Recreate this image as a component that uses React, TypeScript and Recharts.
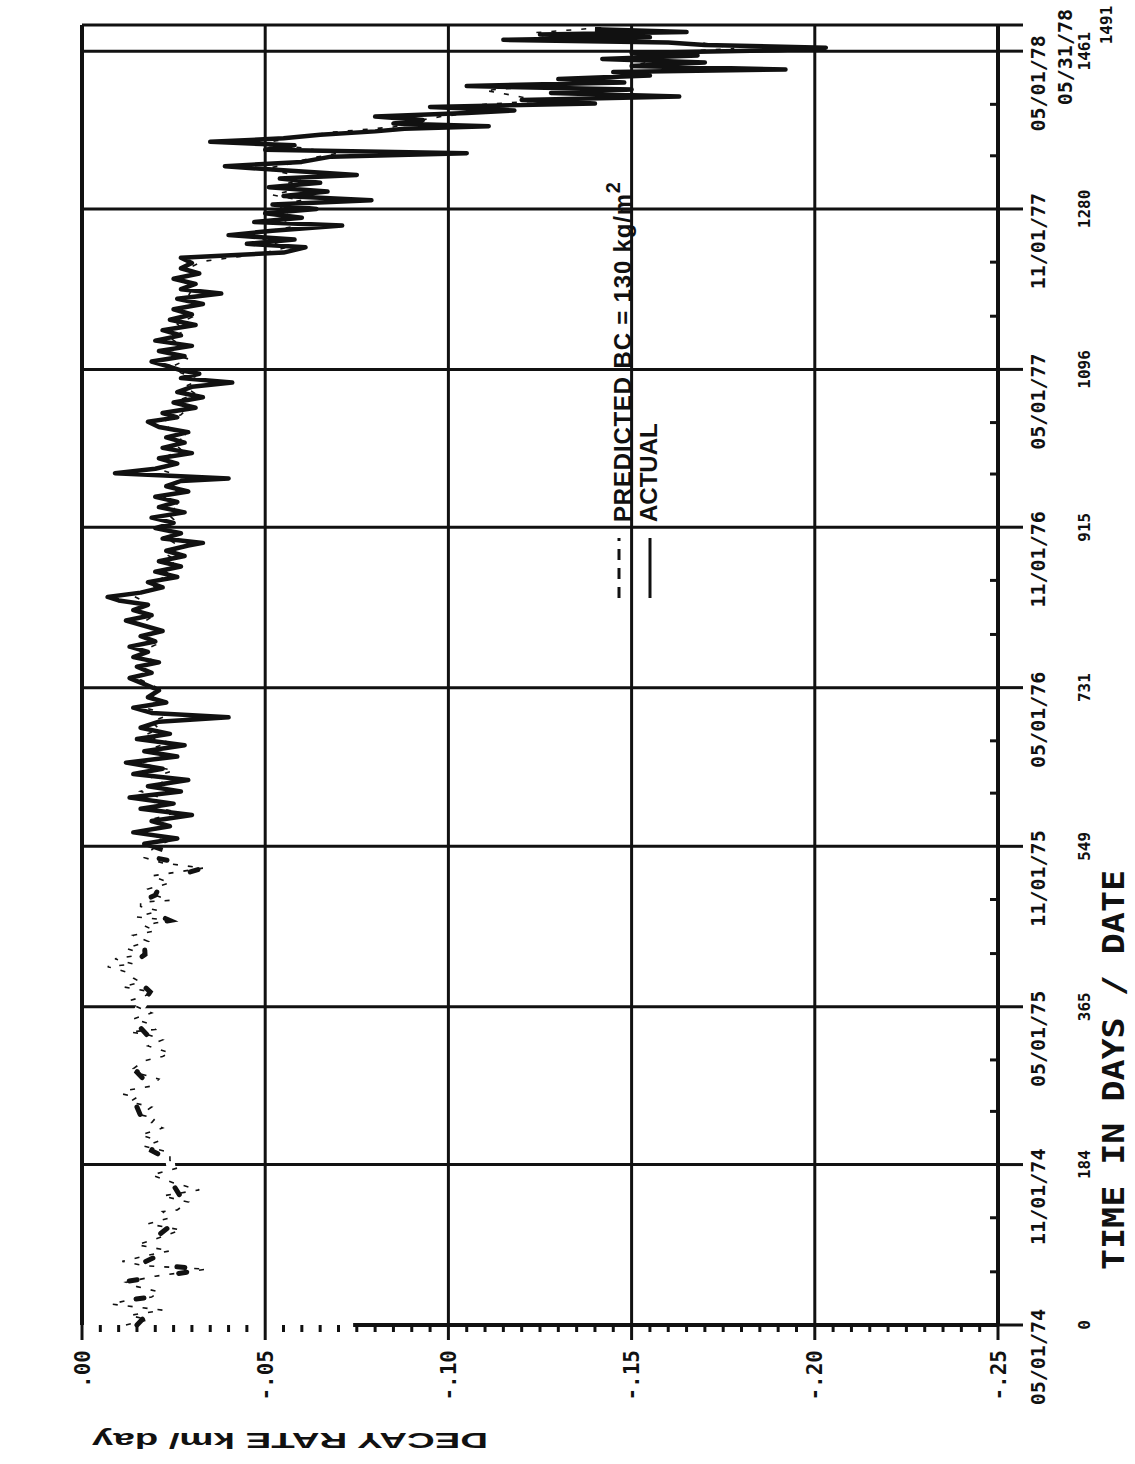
import {
  LineChart,
  Line,
  XAxis,
  YAxis,
  CartesianGrid,
  ReferenceLine,
  Legend,
} from "recharts";

// time axis: days since 05/01/74
const dayTicks = [0, 184, 365, 549, 731, 915, 1096, 1280, 1461, 1491];
const dayLabels = ["0", "184", "365", "549", "731", "915", "1096", "1280", "1461", "1491"];
const dateLabels = [
  "05/01/74", "11/01/74", "05/01/75", "11/01/75", "05/01/76",
  "11/01/76", "05/01/77", "11/01/77", "05/01/78", "05/31/78",
];
// first of Jul, Sep, Jan, Mar
const monthTicks = [61, 123, 245, 304, 426, 488, 610, 670, 792, 854, 976, 1035, 1157, 1219, 1341, 1400];

// decay rate axis, km/day
const rateTicks = [0, -0.05, -0.1, -0.15, -0.2, -0.25];
const rateLabels = [".00", "-.05", "-.10", "-.15", "-.20", "-.25"];

// [day, decay rate]
const predicted: [number, number][] = [
  [0, -0.012], [6, -0.018], [11, -0.013], [17, -0.022], [24, -0.008], [29, -0.013], [32, -0.019], [38, -0.021],
  [44, -0.015], [49, -0.012], [56, -0.02], [64, -0.034], [68, -0.017], [73, -0.011], [80, -0.018], [85, -0.024],
  [92, -0.015], [100, -0.021], [109, -0.027], [116, -0.018], [123, -0.024], [130, -0.022], [132, -0.026], [141, -0.029],
  [148, -0.022], [155, -0.032], [163, -0.025], [172, -0.019], [180, -0.026], [189, -0.024], [198, -0.024], [205, -0.017],
  [211, -0.021], [218, -0.016], [226, -0.022], [232, -0.019], [237, -0.02], [241, -0.016], [250, -0.019], [256, -0.013],
  [261, -0.015], [265, -0.011], [269, -0.012], [274, -0.019], [282, -0.021], [288, -0.016], [294, -0.014], [303, -0.017],
  [308, -0.022], [312, -0.024], [320, -0.018], [327, -0.022], [333, -0.018], [336, -0.013], [339, -0.02], [346, -0.018],
  [351, -0.014], [358, -0.019], [365, -0.015], [372, -0.013], [377, -0.017], [382, -0.019], [388, -0.011], [393, -0.016],
  [398, -0.014], [405, -0.012], [411, -0.007], [414, -0.014], [420, -0.009], [425, -0.017], [432, -0.012], [440, -0.018],
  [447, -0.014], [452, -0.02], [458, -0.017], [461, -0.02], [464, -0.024], [468, -0.015], [475, -0.021], [480, -0.016],
  [485, -0.016], [487, -0.024], [493, -0.02], [500, -0.018], [507, -0.024], [515, -0.019], [524, -0.033], [530, -0.022],
  [536, -0.017], [542, -0.018], [548, -0.02], [556, -0.024], [564, -0.017], [572, -0.023], [580, -0.019], [588, -0.026],
  [596, -0.018], [604, -0.022], [612, -0.016], [620, -0.023], [628, -0.019], [636, -0.025], [644, -0.016], [652, -0.022],
  [660, -0.018], [668, -0.024], [676, -0.017], [684, -0.021], [692, -0.019], [700, -0.024], [708, -0.017], [716, -0.021],
  [724, -0.018], [732, -0.02], [740, -0.016], [748, -0.019], [756, -0.015], [764, -0.019], [772, -0.016], [780, -0.02],
  [788, -0.017], [796, -0.021], [804, -0.016], [812, -0.019], [820, -0.015], [828, -0.018], [836, -0.014], [844, -0.02],
  [852, -0.019], [860, -0.024], [868, -0.022], [876, -0.026], [884, -0.023], [892, -0.027], [900, -0.024], [908, -0.026],
  [916, -0.022], [924, -0.025], [932, -0.023], [940, -0.027], [948, -0.022], [956, -0.026], [964, -0.024], [972, -0.028],
  [980, -0.022], [988, -0.025], [996, -0.023], [1004, -0.027], [1012, -0.025], [1020, -0.029], [1028, -0.024], [1036, -0.022],
  [1044, -0.027], [1052, -0.029], [1060, -0.026], [1068, -0.031], [1076, -0.028], [1084, -0.032], [1092, -0.027], [1100, -0.025],
  [1108, -0.029], [1116, -0.023], [1124, -0.027], [1132, -0.024], [1140, -0.028], [1148, -0.026], [1156, -0.03], [1164, -0.027],
  [1172, -0.031], [1180, -0.029], [1188, -0.03], [1196, -0.028], [1204, -0.031], [1212, -0.029], [1220, -0.033], [1228, -0.048],
  [1236, -0.056], [1244, -0.05], [1252, -0.047], [1260, -0.058], [1268, -0.054], [1276, -0.057], [1284, -0.053], [1290, -0.06],
  [1296, -0.052], [1302, -0.058], [1308, -0.055], [1314, -0.06], [1320, -0.057], [1326, -0.05], [1332, -0.057], [1338, -0.062],
  [1344, -0.07], [1350, -0.06], [1356, -0.05], [1362, -0.058], [1368, -0.068], [1374, -0.085], [1380, -0.09], [1386, -0.098],
  [1392, -0.11], [1398, -0.102], [1404, -0.125], [1410, -0.118], [1416, -0.11], [1422, -0.128], [1428, -0.14], [1434, -0.15],
  [1440, -0.16], [1446, -0.152], [1452, -0.158], [1458, -0.15], [1464, -0.178], [1470, -0.17], [1476, -0.128], [1482, -0.123],
  [1488, -0.142],
];

// the first year and a half of the measured trace only prints in patches
const actualEarly: [number, number][] = [
  [0, -0.015], [11, -0.0175], [20, -0.012], [29, -0.013], [32, -0.019], [40, -0.014], [50, -0.012], [64, -0.034],
  [70, -0.016], [85, -0.0235], [100, -0.02], [120, -0.026], [140, -0.028], [160, -0.025], [189, -0.024], [200, -0.019],
  [211, -0.02], [220, -0.017], [240, -0.016], [260, -0.014], [274, -0.0186], [290, -0.015], [303, -0.017], [320, -0.019],
  [333, -0.0177], [350, -0.014], [365, -0.016], [382, -0.0186], [398, -0.0145], [414, -0.0136], [425, -0.0172], [440, -0.017],
  [461, -0.02], [464, -0.024], [475, -0.018], [485, -0.016], [493, -0.02], [510, -0.022], [524, -0.033], [535, -0.021],
  [545, -0.022],
];

const actual: [number, number][] = [
  [545, -0.022], [552, -0.017], [558, -0.026], [565, -0.014], [572, -0.024], [578, -0.019], [585, -0.03], [592, -0.016],
  [598, -0.025], [605, -0.013], [612, -0.027], [618, -0.018], [625, -0.029], [632, -0.014], [638, -0.022], [645, -0.012],
  [652, -0.026], [658, -0.017], [665, -0.028], [672, -0.015], [678, -0.024], [685, -0.016], [692, -0.021], [697, -0.04],
  [702, -0.019], [708, -0.014], [714, -0.023], [720, -0.018], [728, -0.021], [735, -0.017], [742, -0.013], [748, -0.019],
  [755, -0.015], [760, -0.021], [766, -0.014], [772, -0.018], [778, -0.013], [784, -0.02], [790, -0.016], [796, -0.022],
  [802, -0.017], [808, -0.012], [814, -0.019], [820, -0.014], [826, -0.018], [831, -0.01], [835, -0.007], [840, -0.016],
  [846, -0.022], [852, -0.018], [858, -0.026], [864, -0.02], [870, -0.027], [876, -0.021], [882, -0.028], [888, -0.023],
  [894, -0.029], [897, -0.033], [902, -0.022], [908, -0.027], [914, -0.02], [920, -0.025], [926, -0.019], [932, -0.028],
  [938, -0.021], [944, -0.026], [950, -0.02], [956, -0.029], [962, -0.023], [968, -0.027], [971, -0.04], [974, -0.024],
  [977, -0.009], [982, -0.02], [988, -0.026], [994, -0.021], [1000, -0.03], [1006, -0.022], [1012, -0.028], [1018, -0.023],
  [1024, -0.029], [1030, -0.021], [1036, -0.018], [1041, -0.026], [1046, -0.022], [1052, -0.031], [1058, -0.025], [1064, -0.033],
  [1070, -0.026], [1076, -0.03], [1081, -0.041], [1086, -0.027], [1091, -0.032], [1095, -0.027], [1099, -0.024], [1105, -0.019],
  [1111, -0.028], [1117, -0.021], [1123, -0.03], [1129, -0.02], [1135, -0.027], [1141, -0.022], [1147, -0.031], [1153, -0.024],
  [1159, -0.03], [1165, -0.025], [1171, -0.033], [1177, -0.026], [1183, -0.038], [1188, -0.027], [1194, -0.031], [1200, -0.025],
  [1206, -0.032], [1212, -0.027], [1218, -0.03], [1224, -0.027], [1230, -0.055], [1236, -0.061], [1240, -0.045], [1245, -0.058],
  [1250, -0.04], [1255, -0.052], [1261, -0.071], [1265, -0.047], [1270, -0.06], [1275, -0.05], [1280, -0.064], [1285, -0.052],
  [1290, -0.079], [1295, -0.055], [1300, -0.067], [1305, -0.051], [1310, -0.065], [1315, -0.054], [1319, -0.075], [1324, -0.056],
  [1329, -0.039], [1334, -0.06], [1340, -0.068], [1344, -0.105], [1348, -0.05], [1353, -0.058], [1357, -0.035], [1361, -0.055],
  [1365, -0.065], [1369, -0.08], [1372, -0.088], [1375, -0.111], [1378, -0.085], [1382, -0.093], [1386, -0.08], [1390, -0.105],
  [1393, -0.118], [1397, -0.095], [1401, -0.14], [1405, -0.12], [1409, -0.163], [1413, -0.128], [1417, -0.15], [1421, -0.105],
  [1425, -0.148], [1429, -0.13], [1433, -0.155], [1437, -0.145], [1440, -0.192], [1444, -0.15], [1448, -0.17], [1452, -0.142],
  [1456, -0.168], [1459, -0.15], [1462, -0.19], [1465, -0.203], [1468, -0.17], [1471, -0.16], [1474, -0.115], [1477, -0.155],
  [1480, -0.125], [1483, -0.165], [1486, -0.14],
];

const ink = "#111";
const mono = "'DejaVu Sans Mono', monospace";
const sans = "'Liberation Sans', Arial, sans-serif";

// chart is laid out landscape and turned a quarter turn on the page
const W = 1464;
const H = 1135;

const allDayTicks = [...dayTicks, ...monthTicks].sort((a, b) => a - b);
const rateMinorTicks: number[] = [];
for (let i = 0; i <= 50; i++) rateMinorTicks.push(-i / 200);

const toRows = (pts: [number, number][]) => pts.map(([d, r]) => ({ d, r }));

function RateTick({ x, y, payload }: any) {
  const i = rateTicks.findIndex((t) => Math.abs(t - payload.value) < 1e-9);
  if (i < 0) return <line x1={x - 7} y1={y} x2={x} y2={y} stroke={ink} strokeWidth={3} />;
  return (
    <g>
      <line x1={x - 15} y1={y} x2={x} y2={y} stroke={ink} strokeWidth={3} />
      <text x={x - 25} y={y} dy="0.36em" textAnchor="end" fontFamily={mono} fontWeight="bold" fontSize={21} fill={ink}>
        {rateLabels[i]}
      </text>
    </g>
  );
}

function BottomTick({ x, y, payload }: any) {
  const i = dayTicks.indexOf(payload.value);
  if (i < 0) return <line x1={x} y1={y - 8} x2={x} y2={y} stroke={ink} strokeWidth={3} />;
  const last = i === dayTicks.length - 1;
  return (
    <g>
      <line x1={x} y1={y} x2={x} y2={y + 25} stroke={ink} strokeWidth={3} />
      <text x={x + 16} y={y + (last ? 74 : 47)} textAnchor="end" fontFamily={mono} fontWeight="bold" fontSize={20} fill={ink}>
        {dateLabels[i]}
      </text>
      <text x={x} y={y + (last ? 114 : 92)} textAnchor="middle" fontFamily={mono} fontWeight="bold" fontSize={16} fill={ink}>
        {dayLabels[i]}
      </text>
    </g>
  );
}

function TopTick({ x, y, payload }: any) {
  const i = dayTicks.indexOf(payload.value);
  if (i < 0) return <line x1={x} y1={y - 7} x2={x} y2={y} stroke={ink} strokeWidth={3} />;
  const last = i === dayTicks.length - 1;
  return (
    <g>
      <line x1={x} y1={y - 15} x2={x} y2={y} stroke={ink} strokeWidth={3} />
      <text x={x + 16} y={y - (last ? 57 : 37)} textAnchor="end" fontFamily={mono} fontWeight="bold" fontSize={20} fill={ink}>
        {dateLabels[i]}
      </text>
    </g>
  );
}

function LegendBox() {
  return (
    <svg width={470} height={80}>
      <line x1={6} y1={29} x2={66} y2={29} stroke={ink} strokeWidth={3} strokeDasharray="11 8" />
      <text
        x={82}
        y={41}
        fontFamily={sans}
        fontWeight="bold"
        fontSize={24}
        textLength={340}
        lengthAdjust="spacing"
        fill={ink}
      >
        PREDICTED{"  "}BC = 130 kg/m
        <tspan dy={-11} fontSize={20}>2</tspan>
      </text>
      <line x1={6} y1={60} x2={66} y2={60} stroke={ink} strokeWidth={3} />
      <text x={82} y={67} fontFamily={sans} fontWeight="bold" fontSize={24} fill={ink}>
        ACTUAL
      </text>
    </svg>
  );
}

export default function App() {
  return (
    <div style={{ position: "absolute", left: 0, top: 0, width: H, height: W, overflow: "hidden", background: "#fff" }}>
      <div
        style={{
          position: "absolute",
          left: 0,
          top: 0,
          width: W,
          height: H,
          transformOrigin: "0 0",
          transform: `translateY(${W}px) rotate(-90deg)`,
        }}
      >
        <LineChart width={W} height={H} margin={{ top: 0, right: 25, bottom: 0, left: 0 }}>
          <CartesianGrid
            xAxisId="bottom"
            yAxisId="rate"
            horizontalValues={rateTicks}
            verticalValues={dayTicks.slice(1)}
            stroke={ink}
            strokeWidth={3}
          />
          <XAxis
            xAxisId="top"
            orientation="top"
            type="number"
            dataKey="d"
            domain={[0, 1491]}
            ticks={allDayTicks}
            interval={0}
            height={82}
            tickSize={0}
            tickMargin={0}
            tickLine={false}
            axisLine={{ stroke: ink, strokeWidth: 4 }}
            tick={(p: any) => <TopTick {...p} />}
          />
          <XAxis
            xAxisId="bottom"
            type="number"
            dataKey="d"
            domain={[0, 1491]}
            ticks={allDayTicks}
            interval={0}
            height={137}
            tickSize={0}
            tickMargin={0}
            tickLine={false}
            axisLine={{ stroke: ink, strokeWidth: 4 }}
            tick={(p: any) => <BottomTick {...p} />}
            label={() => (
              <text
                x={394}
                y={1124}
                textAnchor="middle"
                fontFamily={mono}
                fontWeight="bold"
                fontSize={30}
                textLength={400}
                lengthAdjust="spacingAndGlyphs"
                fill={ink}
              >
                TIME IN DAYS / DATE
              </text>
            )}
          />
          <YAxis
            yAxisId="rate"
            type="number"
            domain={[-0.25, 0]}
            ticks={rateMinorTicks}
            interval={0}
            width={139}
            tickSize={0}
            tickMargin={0}
            tickLine={false}
            axisLine={false}
            tick={(p: any) => <RateTick {...p} />}
            label={() => (
              <text
                x={23}
                y={290}
                transform="rotate(-90 23 290)"
                textAnchor="middle"
                dy="0.36em"
                fontFamily={sans}
                fontWeight="bold"
                fontSize={22}
                textLength={396}
                lengthAdjust="spacingAndGlyphs"
                fill={ink}
              >
                DECAY RATE  km/ day
              </text>
            )}
          />
          {/* day-0 edge: only the lower part of the frame line survives */}
          <ReferenceLine
            xAxisId="bottom"
            yAxisId="rate"
            segment={[{ x: 0, y: -0.074 }, { x: 0, y: -0.25 }]}
            stroke={ink}
            strokeWidth={4}
            ifOverflow="visible"
          />
          {/* faded early trace: knocks the grid out where it runs */}
          <Line
            xAxisId="bottom"
            yAxisId="rate"
            data={toRows(actualEarly)}
            dataKey="r"
            legendType="none"
            type="linear"
            stroke="#fff"
            strokeWidth={9}
            dot={false}
            isAnimationActive={false}
          />
          <Line
            xAxisId="bottom"
            yAxisId="rate"
            data={toRows(predicted)}
            dataKey="r"
            name="PREDICTED"
            type="linear"
            stroke={ink}
            strokeWidth={1.6}
            strokeDasharray="5 10"
            dot={false}
            isAnimationActive={false}
          />
          <Line
            xAxisId="bottom"
            yAxisId="rate"
            data={toRows(actualEarly)}
            dataKey="r"
            legendType="none"
            type="linear"
            stroke={ink}
            strokeWidth={5}
            strokeDasharray="8 42"
            strokeLinecap="round"
            dot={false}
            isAnimationActive={false}
          />
          <Line
            xAxisId="bottom"
            yAxisId="rate"
            data={toRows(actual)}
            dataKey="r"
            name="ACTUAL"
            type="linear"
            stroke={ink}
            strokeWidth={4.5}
            strokeLinejoin="round"
            dot={false}
            isAnimationActive={false}
          />
          <Legend
            layout="vertical"
            align="center"
            verticalAlign="middle"
            wrapperStyle={{ position: "absolute", left: 860, top: 590, width: 470, height: 80 }}
            content={() => <LegendBox />}
          />
        </LineChart>
      </div>
    </div>
  );
}
